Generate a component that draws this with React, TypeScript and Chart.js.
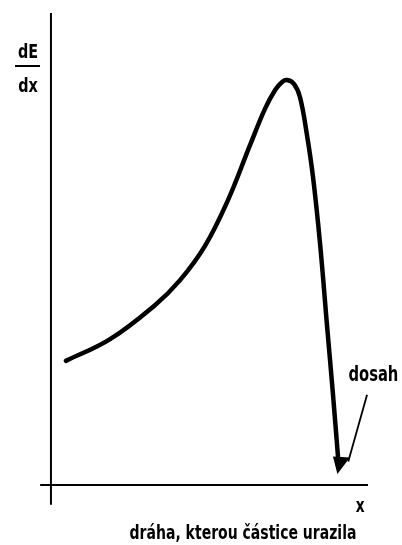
import React, { useEffect, useRef } from "react";
import { Chart, registerables } from "chart.js";

Chart.register(...registerables);

// distance travelled (arbitrary units) and stopping power dE/dx (arbitrary units)
const distance = [0.5, 1.89, 3.3, 4.09, 4.87, 5.6, 6.29, 6.76, 7.08, 7.3, 7.45, 7.67, 7.86, 8.08, 8.27, 8.49, 8.71, 8.9, 9.06];
const stopping = [2.63, 3.09, 3.81, 4.34, 5.06, 6.04, 7.2, 7.97, 8.37, 8.54, 8.58, 8.5, 8.22, 7.42, 6.53, 5.13, 3.39, 1.91, 0.57];

const yLabelTop = "dE";
const yLabelBottom = "dx";
const xAxisLabel = "x";
const xAxisTitle = "dráha, kterou částice urazila";
const rangeLabel = "dosah";

const FONT = '"Liberation Sans Narrow", "DejaVu Sans Condensed", "Liberation Sans", sans-serif';

function narrowText(ctx: any, text: string, x: number, y: number, size: number, squeeze: number) {
  ctx.save();
  ctx.font = `bold ${size}px ${FONT}`;
  ctx.textAlign = "center";
  ctx.textBaseline = "alphabetic";
  ctx.translate(x, y);
  ctx.scale(squeeze, 1);
  ctx.fillText(text, 0, 0);
  ctx.restore();
}

const decorPlugin = {
  id: "decor",
  afterDatasetsDraw(chart: any) {
    const { ctx, scales } = chart;
    const xs = scales.x;
    const ys = scales.y;
    const X = (v: number) => xs.getPixelForValue(v);
    const Y = (v: number) => ys.getPixelForValue(v);
    ctx.save();
    ctx.strokeStyle = "#000";
    ctx.fillStyle = "#000";
    // axes
    ctx.lineWidth = 2;
    ctx.beginPath();
    ctx.moveTo(X(-0.31), Y(0));
    ctx.lineTo(X(10), Y(0));
    ctx.stroke();
    ctx.beginPath();
    ctx.moveTo(X(0.03), Y(10));
    ctx.lineTo(X(0.03), Y(-0.42));
    ctx.stroke();

    // arrowhead at the end of the curve
    const meta = chart.getDatasetMeta(0);
    const pts = meta.data;
    const a = pts[pts.length - 2];
    const b = pts[pts.length - 1];
    const dx = b.x - a.x;
    const dy = b.y - a.y;
    const len = Math.hypot(dx, dy);
    const ux = dx / len;
    const uy = dy / len;
    const tipX = b.x + ux * 16 - 2;
    const tipY = b.y + uy * 16;
    const baseX = b.x - ux * 2;
    const baseY = b.y - uy * 2;
    ctx.beginPath();
    ctx.moveTo(tipX, tipY);
    ctx.lineTo(baseX - uy * 5, baseY + ux * 5);
    ctx.lineTo(baseX + uy * 9 + 3, baseY - ux * 9 + 2);
    ctx.closePath();
    ctx.fill();

    // pointer line for "dosah"
    ctx.lineWidth = 1.8;
    ctx.beginPath();
    ctx.moveTo(X(9.97), Y(1.91));
    ctx.lineTo(X(9.38), Y(0.5));
    ctx.stroke();

    // texts
    narrowText(ctx, rangeLabel, X(10.17), Y(2.2), 21, 0.78);
    narrowText(ctx, yLabelTop, 28, 58, 20, 0.8);
    narrowText(ctx, yLabelBottom, 28, 92, 20, 0.8);
    ctx.lineWidth = 2;
    ctx.beginPath();
    ctx.moveTo(15, 66);
    ctx.lineTo(40, 66);
    ctx.stroke();

    narrowText(ctx, xAxisLabel, X(9.75), Y(-0.57), 19, 0.8);
    narrowText(ctx, xAxisTitle, 243, 539, 19, 0.82);
    ctx.restore();
  },
};

export default function App() {
  const ref = useRef<HTMLCanvasElement | null>(null);
  useEffect(() => {
    document.body.style.margin = "0";
    const canvas = ref.current;
    if (!canvas) return;
    const chart = new Chart(canvas, {
      type: "line",
      data: {
        datasets: [
          {
            data: distance.map((d, i) => ({ x: d, y: stopping[i] })),
            borderColor: "#000",
            borderWidth: 4.5,
            borderCapStyle: "round",
            borderJoinStyle: "round",
            pointRadius: 0,
            fill: false,
            tension: 0.4,
          },
        ],
      },
      options: {
        animation: false,
        responsive: false,
        maintainAspectRatio: false,
        layout: { padding: { left: 50, right: 34, top: 13, bottom: 60 } },
        plugins: { legend: { display: false }, tooltip: { enabled: false }, title: { display: false } },
        scales: {
          x: { type: "linear", min: 0, max: 10, display: false },
          y: { type: "linear", min: 0, max: 10, display: false },
        },
      },
      plugins: [decorPlugin],
    });
    return () => chart.destroy();
  }, []);
  return (
    <div style={{ position: "fixed", left: 0, top: 0, width: 402, height: 545, background: "#fff" }}>
      <canvas ref={ref} width={402} height={545} style={{ width: 402, height: 545 }} />
    </div>
  );
}
